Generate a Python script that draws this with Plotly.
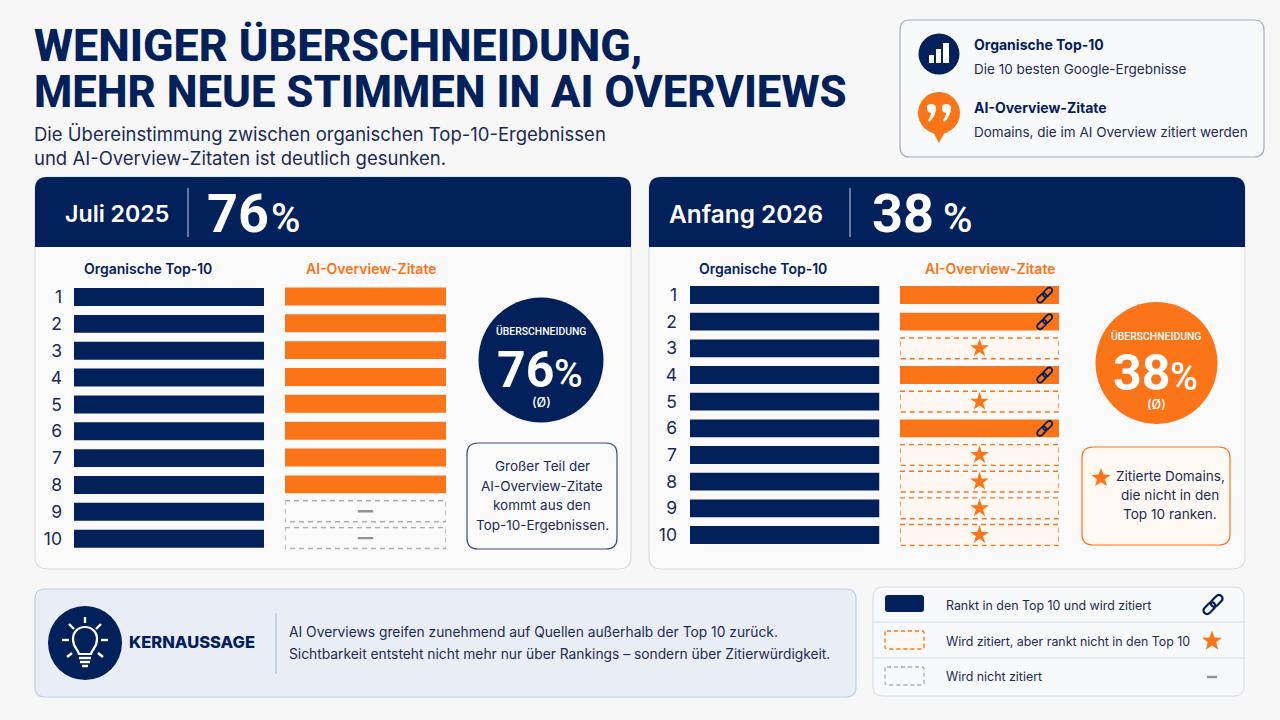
import math, re
import plotly.graph_objects as go

# ---------- data ----------
RANKS = [1, 2, 3, 4, 5, 6, 7, 8, 9, 10]
RANK_LABELS = ["1", "2", "3", "4", "5", "6", "7", "8", "9", "10"]
ORGANIC_JULY = [1, 1, 1, 1, 1, 1, 1, 1, 1, 1]
ORGANIC_2026 = [1, 1, 1, 1, 1, 1, 1, 1, 1, 1]
CITED_JULY = ["top", "top", "top", "top", "top", "top", "top", "top", "none", "none"]
CITED_2026 = ["link", "link", "new", "link", "new", "link", "new", "new", "new", "new"]
OVERLAP_JULY = 76
OVERLAP_2026 = 38
PERIOD_JULY = "Juli 2025"
PERIOD_2026 = "Anfang 2026"
COL_ORGANIC = "Organische Top-10"
COL_AI = "AI-Overview-Zitate"
TITLE_LINES = ["WENIGER ÜBERSCHNEIDUNG,", "MEHR NEUE STIMMEN IN AI OVERVIEWS"]
SUB_LINES = ["Die Übereinstimmung zwischen organischen Top-10-Ergebnissen",
             "und AI-Overview-Zitaten ist deutlich gesunken."]
NOTE_JULY = ["Großer Teil der", "AI-Overview-Zitate", "kommt aus den", "Top-10-Ergebnissen."]
NOTE_2026 = ["Zitierte Domains,", "die nicht in den", "Top 10 ranken."]
KEY_LINES = ["AI Overviews greifen zunehmend auf Quellen außerhalb der Top 10 zurück.",
             "Sichtbarkeit entsteht nicht mehr nur über Rankings – sondern über Zitierwürdigkeit."]
LEGEND_LINES = ["Rankt in den Top 10 und wird zitiert",
                "Wird zitiert, aber rankt nicht in den Top 10",
                "Wird nicht zitiert"]

# ---------- style ----------
NAVY = "#02205A"
INK = "#1B2B52"
ORANGE = "#FB7417"
GREY = "#A9ACB2"
BG = "#F7F7F8"
BODY = "Inter"
HEAD = "Roboto"
W, H = 1280, 720


def px(x):
    return x / W


def py(y):
    return 1 - y / H


def conv(path):
    """Turn a path written in page pixels into paper coordinates."""
    toks = re.findall(r"[MLQCZ]|-?\d+\.?\d*", path)
    out, is_x = [], True
    for t in toks:
        if t in "MLQCZ":
            out.append(t)
            is_x = True
        else:
            out.append(f"{px(float(t)):.5f}" if is_x else f"{py(float(t)):.5f}")
            is_x = not is_x
    return " ".join(out)


shapes, notes = [], []


def path(d, fill=None, line=None, lw=1, dash=None, layer="below"):
    shapes.append(dict(type="path", xref="paper", yref="paper", path=conv(d),
                       fillcolor=fill or "rgba(0,0,0,0)",
                       line=dict(color=line or "rgba(0,0,0,0)", width=lw if line else 0,
                                 dash=dash or "solid"), layer=layer))


def rrect(x0, y0, x1, y1, r):
    return (f"M {x0+r} {y0} L {x1-r} {y0} Q {x1} {y0} {x1} {y0+r} L {x1} {y1-r} Q {x1} {y1} {x1-r} {y1} "
            f"L {x0+r} {y1} Q {x0} {y1} {x0} {y1-r} L {x0} {y0+r} Q {x0} {y0} {x0+r} {y0} Z")


def topround(x0, y0, x1, y1, r):
    return (f"M {x0+r} {y0} L {x1-r} {y0} Q {x1} {y0} {x1} {y0+r} L {x1} {y1} L {x0} {y1} "
            f"L {x0} {y0+r} Q {x0} {y0} {x0+r} {y0} Z")


def circle(cx, cy, r, fill):
    shapes.append(dict(type="circle", xref="paper", yref="paper", x0=px(cx-r), x1=px(cx+r),
                       y0=py(cy+r), y1=py(cy-r), fillcolor=fill, line=dict(width=0), layer="below"))


def line(x0, y0, x1, y1, color, w=1):
    shapes.append(dict(type="line", xref="paper", yref="paper", x0=px(x0), x1=px(x1),
                       y0=py(y0), y1=py(y1), line=dict(color=color, width=w), layer="below"))


def text(x, y, s, size, color=INK, weight=400, anchor="left", font=BODY):
    notes.append(dict(xref="paper", yref="paper", x=px(x), y=py(y), text=s, showarrow=False,
                      xanchor=anchor, yanchor="middle", borderpad=0, borderwidth=0,
                      font=dict(family=font, size=size, color=color, weight=weight)))


def star_path(cx, cy, R):
    pts = []
    for i in range(10):
        a = -math.pi / 2 + i * math.pi / 5
        r = R if i % 2 == 0 else R * 0.42
        pts.append((cx + r * math.cos(a), cy + r * math.sin(a)))
    return "M " + " L ".join(f"{x:.2f} {y:.2f}" for x, y in pts) + " Z"


def link_points(size):
    """Two interlocked stadium outlines on the rising diagonal; y points up in pixel-sized shapes."""
    d = []
    u = (math.sqrt(.5), math.sqrt(.5))
    v = (-u[1], u[0])
    hl, r, off = size * 0.17, size * 0.19, size * 0.27
    for sgn in (1, -1):
        c = (sgn * off * u[0], sgn * off * u[1])
        pts = []
        for end in (1, -1):
            for k in range(9):
                a = -math.pi / 2 + k * math.pi / 8
                al = end * (hl + r * math.cos(a))
                ac = end * r * math.sin(a)
                pts.append((c[0] + al * u[0] + ac * v[0], c[1] + al * u[1] + ac * v[1]))
        d.append("M " + " L ".join(f"{x:.2f} {y:.2f}" for x, y in pts) + " Z")
    return " ".join(d)


# ---------- page furniture ----------
text(34, 45.5, TITLE_LINES[0], 44.8, NAVY, 800, font=HEAD)
text(34, 92.5, TITLE_LINES[1], 43.7, NAVY, 800, font=HEAD)
for i, s in enumerate(SUB_LINES):
    text(34, 134 + i * 24, s, 18.5, INK)

# top-right key
path(rrect(900, 20, 1264, 157, 10), "#F8F9FB", "#9FADC6", 1.2)
circle(939, 54, 20.5, NAVY)
for x0, y0, x1 in [(929, 55, 934), (936, 49, 941), (943, 43, 949)]:
    path(f"M {x0} {y0} L {x1} {y0} L {x1} 63 L {x0} 63 Z", "white")
circle(939, 113, 21, ORANGE)
path("M 933 132 L 945 132 L 939 143 Z", ORANGE)
for dx in (0, 15):
    path(f"M {927+dx} 107 C {927+dx} 103 {936+dx} 103 {936+dx} 108 C {936+dx} 114 {933+dx} 119 {929+dx} 122 "
         f"L {928+dx} 120 C {930+dx} 118 {931+dx} 115 {931+dx} 113 C {928+dx} 113 {927+dx} 110 {927+dx} 107 Z", "white")
text(974, 44.5, COL_ORGANIC, 14, NAVY, 700)
text(974, 68.5, "Die 10 besten Google-Ergebnisse", 13.5, INK)
text(974, 107.5, COL_AI, 14, NAVY, 700)
text(974, 131.5, "Domains, die im AI Overview zitiert werden", 13.5, INK)

# two panels
for x0, x1, period, psize, val, px_t, div, num_x, pct_x in [
        (35, 631, PERIOD_JULY, 23.2, OVERLAP_JULY, 65, 188, 207, 271),
        (649, 1245, PERIOD_2026, 24.4, OVERLAP_2026, 669, 850, 872, 943)]:
    path(rrect(x0, 177, x1, 569, 12), "#FAFAFB", "#D7D9DE", 1)
    path(topround(x0, 177, x1, 247, 12), NAVY)
    line(div, 188, div, 237, "#C9D0DE", 1)
    text(px_t, 214, period, psize, "white", 600)
    text(num_x, 213, str(val), 54, "white", 700, font=HEAD)
    text(pct_x, 218, "%", 40, "white", 500, font=HEAD)

for cx, a in [(148, 371), (763, 990)]:
    text(cx, 268.5, COL_ORGANIC, 14, NAVY, 600, "center")
    text(a, 268.5, COL_AI, 14, ORANGE, 600, "center")

# overlap circles
circle(541, 360, 62.5, NAVY)
text(541, 331, "ÜBERSCHNEIDUNG", 10.4, "white", 500, "center", HEAD)
text(497, 370, str(OVERLAP_JULY), 50, "white", 700, "left", HEAD)
text(554, 374, "%", 39, "white", 500, "left", HEAD)
text(541, 402, "(Ø)", 12.5, "white", 500, "center")
circle(1156.5, 363, 61, ORANGE)
text(1156, 336, "ÜBERSCHNEIDUNG", 10.4, "white", 500, "center", HEAD)
text(1113, 373, str(OVERLAP_2026), 50, "white", 700, "left", HEAD)
text(1170, 377, "%", 38, "white", 500, "left", HEAD)
text(1156, 404.5, "(Ø)", 12.5, "white", 500, "center")

# notes
path(rrect(467, 443, 617, 549, 11), "#FAFAFB", "#36507F", 1.2)
for i, s in enumerate(NOTE_JULY):
    text(542, 466 + i * 19.7, s, 13.5, INK, 400, "center")
path(rrect(1082, 447, 1230, 545, 11), "#FFF9F4", ORANGE, 1.2)
path(star_path(1101, 478, 10), ORANGE)
for i, s in enumerate(NOTE_2026):
    text(1170, 476 + i * 19, s, 13.6, INK, 400, "center")

# Kernaussage
path(rrect(35, 589, 856, 697, 10), "#E9EEF6", "#BFD0E8", 1.2)
circle(85, 643, 37, NAVY)
path("M 79 654 C 78 649 73 648 73 639 C 73 632 78 627 85 627 C 92 627 97 632 97 639 "
     "C 97 648 92 649 91 654 Z", None, "white", 2.2)
for seg in ["M 79 658 L 91 658", "M 80 662 L 90 662", "M 82 666 L 88 666",
            "M 85 617 L 85 623", "M 69 624 L 74 629", "M 101 624 L 96 629",
            "M 62 640 L 69 640", "M 101 640 L 108 640", "M 67 657 L 72 653", "M 103 657 L 98 653"]:
    path(seg, None, "white", 2.4)
text(129, 642, "KERNAUSSAGE", 16.5, NAVY, 800, font=BODY)
line(276, 613, 276, 674, "#AFC0DA", 1.2)
for i, s in enumerate(KEY_LINES):
    text(289, 632 + i * 22, s, 13.8, INK)

# bottom legend
path(rrect(873, 587, 1244, 696, 10), "#F8F9FB", "#D5DAE6", 1)
line(873, 622, 1244, 622, "#D5DAE6", 1)
line(873, 658, 1244, 658, "#D5DAE6", 1)
path(rrect(885, 595, 924, 612, 3), NAVY)
path(rrect(885, 631, 924, 649, 2), "#FFF8F2", ORANGE, 1.3, "4px,3px")
path(rrect(885, 667, 924, 685, 2), None, GREY, 1.3, "4px,3px")
for i, s in enumerate(LEGEND_LINES):
    text(946, 605.5 + i * 35.5, s, 12.4, INK)
shapes.append(dict(type="path", xref="paper", yref="paper", xsizemode="pixel", ysizemode="pixel",
                   xanchor=px(1213), yanchor=py(604.5), path=link_points(19),
                   line=dict(color=NAVY, width=2.2), fillcolor="rgba(0,0,0,0)", layer="above"))
path(star_path(1212, 641, 10.5), ORANGE)
line(1207, 677, 1217, 677, "#8E939C", 2.4)

# ---------- chart marks ----------
fig = go.Figure()
BAR_H = 0.67
DASH_H = 0.78


def setup_axes(n, x0, x1, y0, y1, labels, standoff=12):
    s = "" if n == 1 else str(n)
    fig.layout[f"xaxis{s}"] = dict(domain=[px(x0), px(x1)], range=[0, 1], visible=False,
                                   fixedrange=True, anchor=f"y{s}")
    fig.layout[f"yaxis{s}"] = dict(domain=[py(y1), py(y0)], range=[10.5, 0.5], fixedrange=True,
                                   anchor=f"x{s}", tickvals=RANKS if labels else [],
                                   ticktext=RANK_LABELS if labels else [], showgrid=False,
                                   zeroline=False, showline=False, ticks="", ticklabelstandoff=standoff,
                                   tickfont=dict(family=BODY, size=17.5, color=INK))


def organic(n, vals):
    s = "" if n == 1 else str(n)
    fig.add_bar(y=RANKS, x=vals, orientation="h", width=BAR_H, xaxis=f"x{s}", yaxis=f"y{s}",
                marker=dict(color=NAVY, line=dict(width=0)), showlegend=False)


def cited(n, status):
    s = str(n)
    solid = [r for r, c in zip(RANKS, status) if c in ("top", "link")]
    fig.add_bar(y=solid, x=[1] * len(solid), orientation="h", width=BAR_H, xaxis=f"x{s}", yaxis=f"y{s}",
                marker=dict(color=ORANGE, line=dict(width=0)), showlegend=False)
    for r, c in zip(RANKS, status):
        if c in ("new", "none"):
            t, b = r - DASH_H / 2, r + DASH_H / 2
            col, fill = (ORANGE, "#FFF8F2") if c == "new" else (GREY, "rgba(0,0,0,0)")
            fig.add_scatter(x=[0, 1, 1, 0, 0], y=[t, t, b, b, t], mode="lines", fill="toself",
                            fillcolor=fill, line=dict(color=col, width=1.4, dash="5px,4px"),
                            xaxis=f"x{s}", yaxis=f"y{s}", showlegend=False)
    new = [r for r, c in zip(RANKS, status) if c == "new"]
    if new:
        fig.add_scatter(x=[0.5] * len(new), y=new, mode="markers", xaxis=f"x{s}", yaxis=f"y{s}",
                        marker=dict(symbol="star", size=14, color=ORANGE, line=dict(width=0)), showlegend=False)
    none = [r for r, c in zip(RANKS, status) if c == "none"]
    if none:
        fig.add_scatter(x=[0.5] * len(none), y=none, mode="markers", xaxis=f"x{s}", yaxis=f"y{s}",
                        marker=dict(symbol="line-ew", size=11, line=dict(width=2.4, color="#8E939C")), showlegend=False)
    for r, c in zip(RANKS, status):
        if c == "link":
            shapes.append(dict(type="path", xref=f"x{s}", yref=f"y{s}", xsizemode="pixel", ysizemode="pixel",
                               xanchor=0.91, yanchor=r, path=link_points(15),
                               line=dict(color=NAVY, width=1.8), fillcolor="rgba(0,0,0,0)", layer="above"))


setup_axes(1, 74, 264, 283.6, 552.1, True, 11)
setup_axes(2, 285, 446, 283, 551.5, False)
setup_axes(3, 690, 879.5, 281.7, 548.3, True, 12)
setup_axes(4, 900, 1059, 281.7, 548.3, False)
organic(1, ORGANIC_JULY)
cited(2, CITED_JULY)
organic(3, ORGANIC_2026)
cited(4, CITED_2026)

fig.update_layout(width=W, height=H, autosize=False, margin=dict(l=0, r=0, t=0, b=0),
                  paper_bgcolor=BG, plot_bgcolor="rgba(0,0,0,0)", hovermode=False,
                  barmode="overlay", shapes=shapes, annotations=notes,
                  font=dict(family=BODY, color=INK))
fig.write_html("out.html", config=dict(displayModeBar=False),
               post_script="document.body.style.margin='0';document.documentElement.style.background='" + BG + "';")
